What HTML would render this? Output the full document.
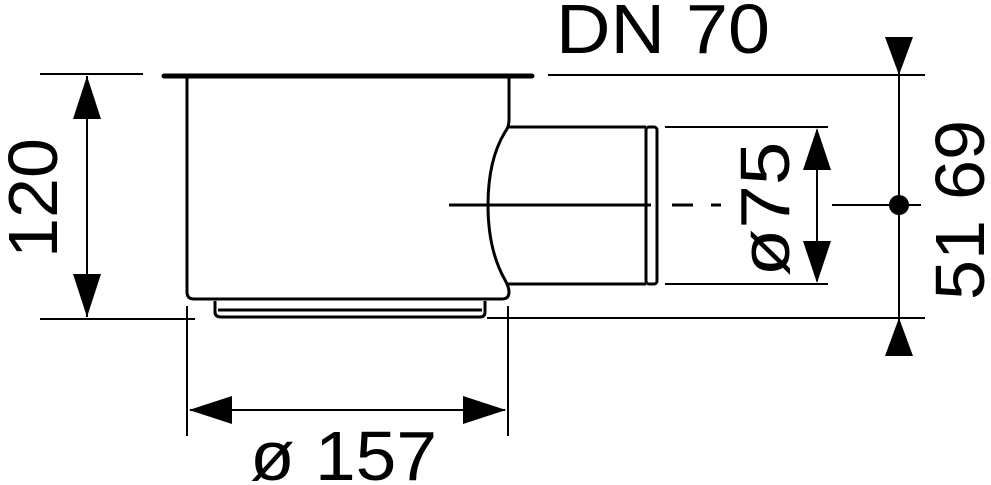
<!DOCTYPE html>
<html><head><meta charset="utf-8"><style>html,body{margin:0;padding:0;background:#fff}svg{display:block}</style></head>
<body>
<svg width="991" height="485" viewBox="0 0 991 485" xmlns="http://www.w3.org/2000/svg" font-family="Liberation Sans, sans-serif">
<g stroke="#000" fill="none">
<line x1="40" y1="74" x2="143" y2="74" stroke-width="2"/>
<line x1="548" y1="75" x2="925" y2="75" stroke-width="2"/>
<line x1="40" y1="319" x2="195" y2="319" stroke-width="2"/>
<line x1="487" y1="318" x2="925" y2="318" stroke-width="2"/>
<line x1="164" y1="76" x2="532" y2="76" stroke-width="5" stroke-linecap="round"/>
<path d="M187 78 L187 292 Q187 299 194 299 L502 299 Q509 299 509 292 Q509 287 505 280 Q488 250 488 205 Q488 160 505 132 Q509 127 509 120 L509 78" stroke-width="3"/>
<path d="M215 301 L215 312 Q215 317 221 317 L480 317 Q485 317 485 312 L485 301" stroke-width="3"/>
<line x1="218" y1="310" x2="482" y2="310" stroke-width="3"/>
<line x1="507" y1="127" x2="646" y2="127" stroke-width="3"/>
<line x1="507" y1="284" x2="646" y2="284" stroke-width="3"/>
<rect x="646" y="127" width="11" height="157" rx="3" stroke-width="3"/>
<line x1="449" y1="205" x2="651" y2="205" stroke-width="3"/>
<line x1="672" y1="205" x2="693" y2="205" stroke-width="3"/>
<line x1="711" y1="205" x2="721" y2="205" stroke-width="3"/>
<line x1="665" y1="127" x2="828" y2="127" stroke-width="2"/>
<line x1="665" y1="284" x2="828" y2="284" stroke-width="2"/>
<line x1="817" y1="130" x2="817" y2="281" stroke-width="2"/>
<line x1="899" y1="38" x2="899" y2="356" stroke-width="2"/>
<line x1="832" y1="205" x2="921" y2="205" stroke-width="2"/>
<line x1="87" y1="76" x2="87" y2="317" stroke-width="2"/>
<line x1="187" y1="306" x2="187" y2="436" stroke-width="2"/>
<line x1="508" y1="306" x2="508" y2="436" stroke-width="2"/>
<line x1="190" y1="410" x2="505" y2="410" stroke-width="2"/>
</g>
<g fill="#000">
<polygon points="87,76 73,119 101,119"/>
<polygon points="87,317 73,274 101,274"/>
<polygon points="189,410 232,396 232,424"/>
<polygon points="506,410 463,396 463,424"/>
<polygon points="817,128 803,170 831,170"/>
<polygon points="817,283 803,241 831,241"/>
<polygon points="899,75 885,37 913,37"/>
<polygon points="899,318 885,356 913,356"/>
<circle cx="899" cy="205" r="10"/>
</g>
<g fill="#000" font-size="70">
<text x="556" y="53" textLength="214" lengthAdjust="spacingAndGlyphs">DN 70</text>
<text x="250" y="480" textLength="187" lengthAdjust="spacingAndGlyphs">ø 157</text>
<text transform="translate(57,198) rotate(-90)" text-anchor="middle" textLength="120" lengthAdjust="spacingAndGlyphs">120</text>
<text transform="translate(789,209) rotate(-90)" text-anchor="middle" textLength="135" lengthAdjust="spacingAndGlyphs">ø75</text>
<text transform="translate(984,210) rotate(-90)" text-anchor="middle" textLength="180" lengthAdjust="spacingAndGlyphs">51 69</text>
</g>
</svg>
</body></html>
